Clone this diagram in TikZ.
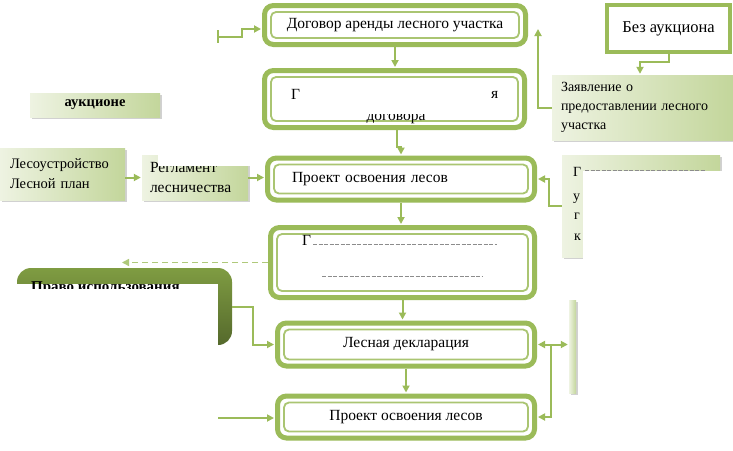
\documentclass[tikz,border=0pt]{standalone}
\usepackage{fontspec}
\setmainfont{Liberation Serif}
\usetikzlibrary{arrows.meta,shadows,calc}
\definecolor{gr}{HTML}{9BBB59}
\definecolor{grl}{HTML}{C3D69B}
\definecolor{grp}{HTML}{EEF3E2}
\definecolor{dk}{HTML}{7F9C42}
\definecolor{dkd}{HTML}{55692C}
\begin{document}
\begin{tikzpicture}[x=1pt,y=-1pt,
  mainbox/.style={rectangle, rounded corners=9pt, draw=gr, line width=5pt, fill=white, inner sep=0pt,
    font=\fontsize{15.5}{18}\selectfont, align=center,
    path picture={\draw[gr!85, line width=1.8pt, rounded corners=5pt]
      ([shift={(6.5pt,-6.5pt)}]path picture bounding box.north west) rectangle
      ([shift={(-6.5pt,6.5pt)}]path picture bounding box.south east);}},
  sidebox/.style={rectangle, left color=grp, right color=grl, inner sep=0pt,
    drop shadow={shadow xshift=2pt, shadow yshift=-2pt, fill=black!40, opacity=0.45},
    font=\fontsize{14.5}{20}\selectfont, align=left},
  conn/.style={draw=gr, line width=2pt, shorten >=1pt, -{Triangle[length=7pt,width=7pt]}},
  plainline/.style={draw=gr, line width=2pt},
  frag/.style={font=\fontsize{15.5}{18}\selectfont, anchor=base west, inner sep=0pt},
  remn/.style={draw=black!45, line width=1pt, dash pattern=on 4pt off 1.5pt}
]
\fill[white] (0,0) rectangle (733,450);
\useasboundingbox (0,0) rectangle (733,450);

% main column
\node[mainbox, minimum width=261pt, minimum height=39pt] (b1) at (395,25) {Договор аренды лесного участка};
\node[mainbox, minimum width=260pt, minimum height=57pt] (b2) at (394.5,99) {};
\node[mainbox, minimum width=267pt, minimum height=42pt, text width=218pt, inner xsep=24.5pt, align=left] (b3) at (401,179) {Проект освоения лесов};
\node[mainbox, minimum width=264pt, minimum height=70pt] (b4) at (402.5,262.5) {};
\node[mainbox, minimum width=257pt, minimum height=43pt] (b5) at (406,344.5) {Лесная декларация};
\node[mainbox, minimum width=257pt, minimum height=42pt] (b6) at (406,417) {Проект освоения лесов};

% fragments in box 2
\node[frag] (f2a) at (291,99) {Г};
\node[frag] (f2b) at (491,98) {я};
\begin{scope}
  \clip (340,114.5) rectangle (450,126);
  \node[frag, anchor=base] (f2c) at (396,120) {договора};
\end{scope}
% fragments in box 4
\node[frag] (f4a) at (302,245) {Г};
\draw[remn] (313,244) -- (497,244);
\draw[remn] (322,276) -- (482,276);

% left column
\node[sidebox, minimum width=130pt, minimum height=24pt, align=center, font=\bfseries\fontsize{14.5}{16}\selectfont] (auc) at (95,105) {аукционе};
\node[sidebox, minimum width=125pt, minimum height=52pt, text width=105pt, inner xsep=10pt] (les) at (62.5,174) {Лесоустройство\\Лесной план};
\node[sidebox, minimum width=106pt, minimum height=45pt, text width=90pt, inner xsep=8pt, font=\fontsize{15.5}{20}\selectfont] (reg) at (195,177.5) {Регламент\\лесничества};
\fill[white] (158,145) rectangle (256,166);

\draw[conn] (les.east |- reg.west) -- (reg.west);
\draw[conn] (reg.east) -- (reg.east -| b3.west);

% dashed arrow from box 4
\coordinate (dend) at (122,262.5);
\draw[gr!80, line width=1.5pt, dash pattern=on 6pt off 4pt, -{Triangle[length=7pt,width=7pt]}] (b4.west) -- (dend);

% dark shape
\node[rectangle, rounded corners=14pt, top color=dk, bottom color=dkd, minimum width=215pt, minimum height=77pt, inner sep=0pt] (pr) at (124.5,306.5) {};
\fill[white] (0,284) rectangle (218,352);
\begin{scope}
  \clip (0,270) rectangle (220,288.5);
  \node[anchor=base west, inner sep=0pt, font=\bfseries\fontsize{15}{18}\selectfont] (prt) at (31,291) {Право использования};
\end{scope}
\coordinate (p1) at (253,304);
\draw[conn] (pr.east) -- (pr.east -| p1) |- (b5.west);

% top-left and bottom-left arrows
\coordinate (tl) at (218,37);
\coordinate (tl1) at (242,37);
\coordinate (tl2) at (242,29);
\draw[plainline] ([yshift=7pt]tl) -- ([yshift=-6pt]tl);
\draw[conn] (tl) -- (tl1) -- (tl2) -- (tl2 -| b1.west);
\coordinate (bl) at (218,418);
\draw[conn] (bl) -- (bl -| b6.west);

% right side
\node[rectangle, draw=gr, line width=4pt, fill=white, minimum width=123pt, minimum height=47pt,
  drop shadow={shadow xshift=2pt, shadow yshift=-2pt, fill=black!40, opacity=0.45},
  font=\fontsize{16.5}{18}\selectfont] (bez) at (668.5,28.5) {Без аукциона};
\node[sidebox, minimum width=181pt, minimum height=65pt, text width=163pt, inner xsep=9pt,
  font=\fontsize{14}{19}\selectfont] (zay) at (642.5,107.5) {Заявление о\\предоставлении лесного\\участка};
\coordinate (zj) at (668,62);
\draw[conn] (bez.south) -- (bez.south |- zj) -| ([xshift=-2.5pt]zay.north);
\coordinate (zr) at (538,0);
\draw[conn] (zay.west) -| ([yshift=-3pt]zr |- b1.east);

\node[sidebox, minimum width=158pt, minimum height=102pt] (pol) at (641,206) {};
\fill[white] (583,171) rectangle (733,262);
\node[frag, font=\fontsize{14}{18}\selectfont] (pa) at (573,176) {Г};
\draw[remn] (585,170) -- (705,170);
\node[frag, font=\fontsize{14}{18}\selectfont] (pb) at (573,200) {у};
\node[frag, font=\fontsize{14}{18}\selectfont] (pc) at (574,219) {г};
\node[frag, font=\fontsize{14}{18}\selectfont] (pd) at (574,240) {к};
\coordinate (pj) at (549,0);
\draw[conn] (pol.west) -- (pol.west -| pj) -- (pj |- b3.east) -- (b3.east);

\node[sidebox, minimum width=7pt, minimum height=93pt] (strip) at (572.5,346.5) {};
\coordinate (j) at (551,344.5);
\draw[conn] (j) -- (strip.west |- j);
\draw[conn] (j) -- (b5.east);
\draw[conn] (j) -- (j |- b6.east) -- (b6.east);

% vertical arrows
\draw[conn] (b1.south) -- (b1.south |- b2.north);
\coordinate (k1) at (397,147);
\draw[conn] (k1 |- b2.south) -- (k1) -- (b3.north |- k1) -- (b3.north);
\draw[conn] (b3.south) -- (b3.south |- b4.north);
\draw[conn] (b4.south) -- (b4.south |- b5.north);
\draw[conn] (b5.south) -- (b5.south |- b6.north);
\end{tikzpicture}
\end{document}
